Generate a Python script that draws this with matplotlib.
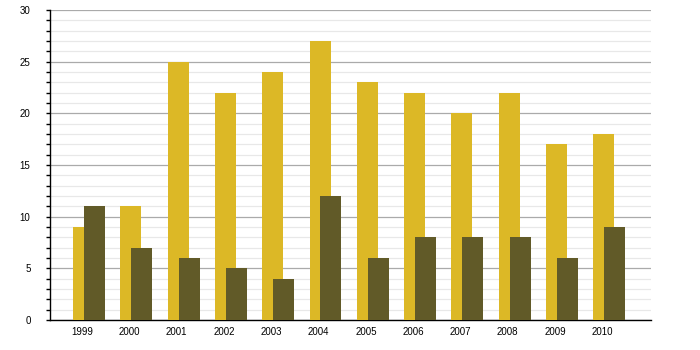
import matplotlib
matplotlib.use("Agg")
import matplotlib.pyplot as plt
import numpy as np
from matplotlib.ticker import MultipleLocator

years = ["1999", "2000", "2001", "2002", "2003", "2004", "2005", "2006", "2007", "2008", "2009", "2010"]
serie_a = [9, 11, 25, 22, 24, 27, 23, 22, 20, 22, 17, 18]
serie_b = [11, 7, 6, 5, 4, 12, 6, 8, 8, 8, 6, 9]

plt.rcParams['font.family'] = ['Liberation Sans', 'DejaVu Sans']

fig = plt.figure(figsize=(7, 3.5), dpi=100)
ax = fig.add_axes([50/700, 30/350, 601/700, 310/350])

x = np.arange(len(years))
w = 0.444
ax.bar(x - 0.19, serie_a, width=w, align="edge", color="#DCB826", zorder=3)
ax.bar(x + 0.04, serie_b, width=w, align="edge", color="#615A28", zorder=4)

ax.set_xlim(-0.68, 12.03)
ax.set_ylim(0, 30)
ax.set_xticks(x)
ax.set_xticklabels(years)
ax.yaxis.set_major_locator(MultipleLocator(5))
ax.yaxis.set_minor_locator(MultipleLocator(1))

ax.grid(axis="y", which="major", color="#AAAAAA", linewidth=0.9, zorder=1)
ax.grid(axis="y", which="minor", color="#E8E8E8", linewidth=0.9, zorder=0)
ax.set_axisbelow(True)

for s in ["top", "right"]:
    ax.spines[s].set_visible(False)
ax.spines["left"].set_color("black")
ax.spines["bottom"].set_color("black")
ax.spines["left"].set_linewidth(1)
ax.spines["bottom"].set_linewidth(1)

ax.tick_params(axis="x", length=0, pad=5, labelsize=7)
ax.tick_params(axis="y", which="major", length=3, width=1, pad=11, labelsize=7)
ax.tick_params(axis="y", which="minor", length=3, width=1)

fig.savefig("out.png", dpi=100)
